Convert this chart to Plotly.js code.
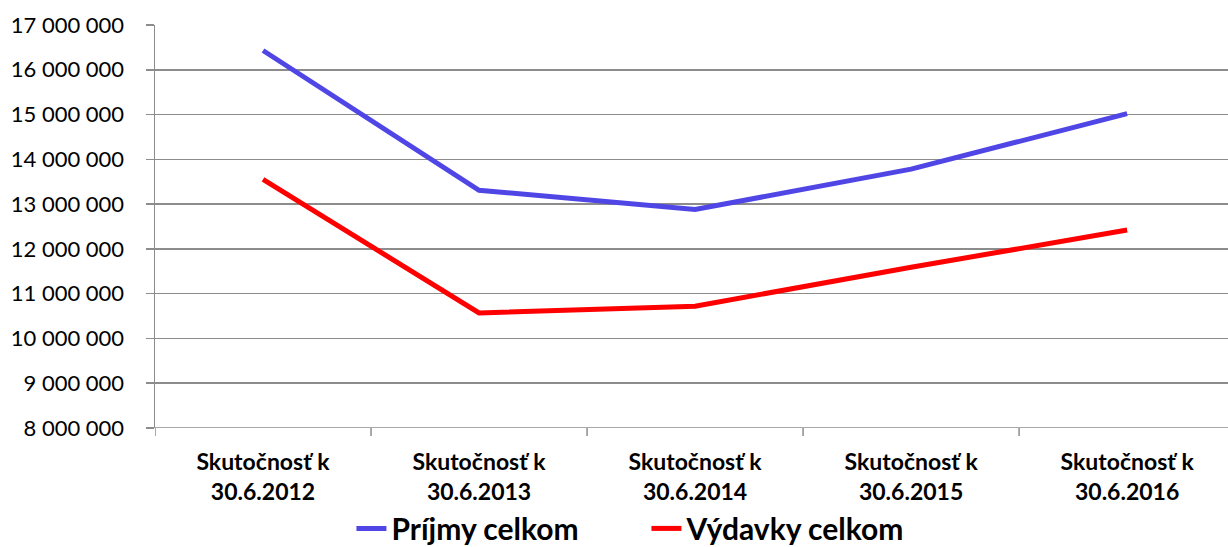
<!DOCTYPE html>
<html>
<head>
<meta charset="utf-8">
<script src="https://cdn.plot.ly/plotly-3.0.1.min.js"></script>
<style>html,body{margin:0;padding:0;background:#fff;}#chart{width:1228px;height:547px;}</style>
</head>
<body>
<div id="chart"></div>
<script>
const categories = ["30.6.2012", "30.6.2013", "30.6.2014", "30.6.2015", "30.6.2016"];
const categoryPrefix = "Skutočnosť k";
const prijmy = [16430000, 13310000, 12880000, 13780000, 15020000];
const vydavky = [13550000, 10570000, 10720000, 11590000, 12420000];
const seriesNames = ["Príjmy celkom", "Výdavky celkom"];
const yTickValues = [8000000, 9000000, 10000000, 11000000, 12000000, 13000000, 14000000, 15000000, 16000000, 17000000];
const yTickLabels = ["8 000 000", "9 000 000", "10 000 000", "11 000 000", "12 000 000", "13 000 000", "14 000 000", "15 000 000", "16 000 000", "17 000 000"];

const xIdx = categories.map((c, i) => i);
const xText = categories.map(c => categoryPrefix + "<br>" + c);

const traces = [
  {x: xIdx, y: prijmy, name: seriesNames[0], type: "scatter", mode: "lines",
   line: {color: "#5046E6", width: 5}},
  {x: xIdx, y: vydavky, name: seriesNames[1], type: "scatter", mode: "lines",
   line: {color: "#FF0000", width: 5}}
];

const layout = {
  width: 1228, height: 547,
  margin: {l: 155, r: 0, t: 25, b: 119, autoexpand: false},
  paper_bgcolor: "#fff", plot_bgcolor: "#fff",
  font: {family: "Lato, 'Open Sans', sans-serif", color: "#000"},
  showlegend: true,
  legend: {orientation: "h", x: 0.458, xanchor: "center", yref: "container", y: 0.034, yanchor: "middle",
    entrywidth: 250, entrywidthmode: "pixels",
    font: {size: 30, weight: "bold", family: "Lato, sans-serif"}, traceorder: "normal"},
  xaxis: {
    range: [-0.5, 4.467], tickmode: "array", tickvals: xIdx, ticktext: xText,
    showgrid: false, zeroline: false, showline: false, automargin: false,
    ticks: "", tickfont: {size: 23, weight: "bold"}, ticklabelstandoff: 18, fixedrange: true
  },
  yaxis: {
    range: [8000000, 17000000], tickmode: "array", tickvals: yTickValues, ticktext: yTickLabels,
    showgrid: true, gridcolor: "#8c8c8c", gridwidth: 1.5, zeroline: false,
    showline: true, linecolor: "#8c8c8c", linewidth: 1.5, automargin: false,
    ticks: "outside", ticklen: 8, tickcolor: "#8c8c8c", tickwidth: 1.5,
    ticklabelstandoff: 17, tickfont: {size: 22}, fixedrange: true
  },
  shapes: [
    {type: "line", xref: "paper", yref: "y", x0: 0, x1: 1, y0: 8000000, y1: 8000000,
     line: {color: "#8c8c8c", width: 1.5}}
  ].concat([0,1,2,3,4,5].map(k => ({type: "line", xref: "x", yref: "paper",
     x0: k - 0.5, x1: k - 0.5, y0: 0, y1: -0.02, line: {color: "#8c8c8c", width: 1.5}})))
};

Plotly.newPlot("chart", traces, layout, {displayModeBar: false, staticPlot: true});
</script>
</body>
</html>
